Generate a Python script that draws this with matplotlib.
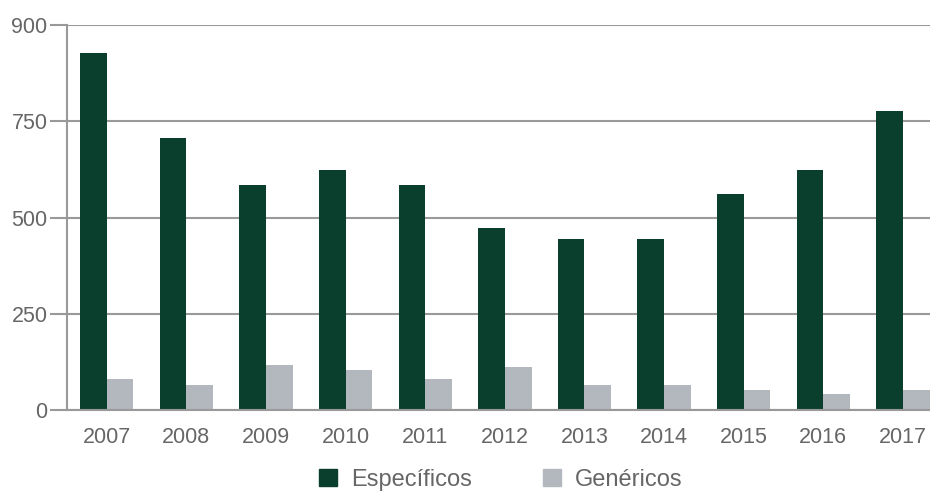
import matplotlib
matplotlib.use("Agg")
import matplotlib.pyplot as plt
from matplotlib.patches import Patch
import numpy as np

plt.rcParams['font.family'] = ['Liberation Sans', 'DejaVu Sans']

years = ['2007', '2008', '2009', '2010', '2011', '2012', '2013', '2014', '2015', '2016', '2017']
especificos = [927, 706, 584, 623, 584, 473, 444, 444, 561, 623, 777]
genericos = [80, 65, 117, 104, 80, 112, 65, 65, 52, 42, 52]
ytick_pos = [0, 250, 500, 750, 1000]
ytick_labels = ['0', '250', '500', '750', '900']

c_esp = '#0a3f2d'
c_gen = '#b2b8bd'
txt = '#666666'
grid = '#999999'

fig = plt.figure(figsize=(9.3, 4.93), dpi=100)
ax = fig.add_axes([67/930, 1 - 410/493, 1 - 67/930, (410 - 25)/493])

x = np.arange(len(years))
w = 0.335
ax.bar(x - w/2, especificos, width=w, color=c_esp, zorder=3, label='Específicos')
ax.bar(x + w/2, genericos, width=w, color=c_gen, zorder=3, label='Genéricos')

ax.set_xlim(-0.5, 10.34)
ax.set_ylim(0, 1000)
ax.set_yticks(ytick_pos)
ax.set_yticklabels(ytick_labels)
ax.set_xticks(x)
ax.set_xticklabels(years)
ax.yaxis.grid(True, color=grid, linewidth=1.5, zorder=0)
ax.tick_params(axis='y', length=12, width=1.5, color=grid, labelcolor=txt, labelsize=15.5, pad=2)
ax.tick_params(axis='x', length=0, labelcolor=txt, labelsize=15.5, pad=12)
for s in ['top', 'right']:
    ax.spines[s].set_visible(False)
ax.spines['left'].set_color(grid)
ax.spines['left'].set_linewidth(1.5)
ax.spines['bottom'].set_color(grid)
ax.spines['bottom'].set_linewidth(1.5)
ax.spines['bottom'].set_zorder(4)

handles = [Patch(color=c_esp), Patch(color=c_gen)]
fig.legend(handles, ['Específicos', 'Genéricos'], loc='center', bbox_to_anchor=(501/930, 1 - 480/493),
           ncol=2, frameon=False, fontsize=17, labelcolor=txt, handlelength=0.75, handleheight=0.75,
           handletextpad=0.6, columnspacing=3.0, borderpad=0)

fig.savefig('out.png', dpi=100)
